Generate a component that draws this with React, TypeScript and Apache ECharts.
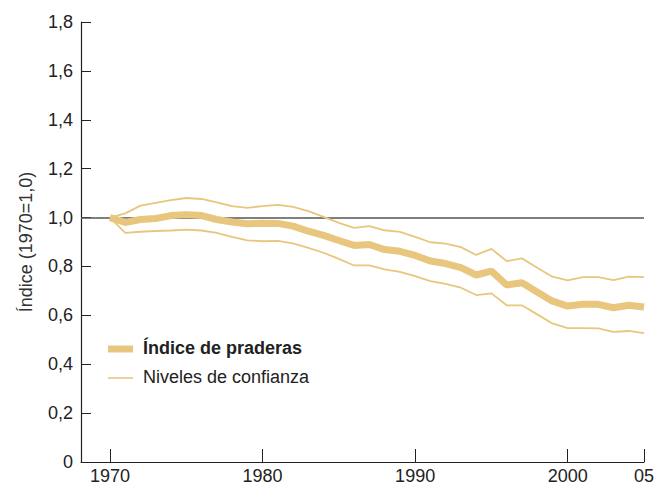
import React, { useEffect, useRef } from "react";
import * as echarts from "echarts";

const years = [1970,1971,1972,1973,1974,1975,1976,1977,1978,1979,1980,1981,1982,1983,1984,1985,1986,1987,1988,1989,1990,1991,1992,1993,1994,1995,1996,1997,1998,1999,2000,2001,2002,2003,2004,2005];
const indexValues = [1.0,0.98,0.992,0.996,1.008,1.012,1.008,0.992,0.982,0.975,0.977,0.976,0.965,0.944,0.927,0.906,0.886,0.89,0.869,0.862,0.845,0.822,0.812,0.795,0.765,0.781,0.724,0.733,0.695,0.658,0.638,0.645,0.645,0.631,0.641,0.634];
const upperValues = [1.0,1.017,1.049,1.06,1.071,1.08,1.076,1.062,1.047,1.04,1.047,1.052,1.044,1.026,1.003,0.978,0.958,0.965,0.948,0.941,0.921,0.899,0.893,0.879,0.847,0.872,0.822,0.833,0.795,0.758,0.743,0.756,0.756,0.744,0.758,0.756];
const lowerValues = [1.0,0.937,0.942,0.945,0.947,0.951,0.947,0.937,0.921,0.907,0.903,0.905,0.894,0.876,0.856,0.831,0.804,0.804,0.788,0.778,0.76,0.74,0.729,0.713,0.683,0.69,0.641,0.641,0.604,0.567,0.548,0.548,0.547,0.532,0.536,0.527];
const xTicks = [1970, 1980, 1990, 2000, 2005];
const baseline = 1.0;
const legendLabels = ["Índice de praderas", "Niveles de confianza"];
const yAxisName = "Índice (1970=1,0)";

const GOLD = "#e8c67e";
const FONT = "Liberation Sans, Arial, Helvetica, sans-serif";

export default function App() {
  const ref = useRef<HTMLDivElement>(null);
  useEffect(() => {
    if (!ref.current) return;
    const chart = echarts.init(ref.current, undefined, { renderer: "svg" });
    const pair = (vals: number[]) => years.map((y, i) => [y, vals[i]]);
    chart.setOption({
      animation: false,
      backgroundColor: "#ffffff",
      textStyle: { fontFamily: FONT },
      grid: { left: 81, right: 9, top: 22, bottom: 21, containLabel: false },
      xAxis: {
        type: "value",
        min: 1968.1,
        max: 2005,
        axisLine: { show: true, lineStyle: { color: "#222", width: 1.2 } },
        axisTick: {
          show: true,
          inside: true,
          length: 13,
          customValues: xTicks,
          lineStyle: { color: "#222", width: 1 },
        },
        axisLabel: {
          customValues: xTicks,
          fontSize: 18,
          color: "#222",
          margin: 5,
          fontFamily: FONT,
          formatter: (v: number) => (v === 2005 ? "05" : String(v)),
        },
        splitLine: { show: false },
      },
      yAxis: {
        type: "value",
        min: 0,
        max: 1.8,
        interval: 0.2,
        name: yAxisName,
        nameLocation: "middle",
        nameGap: 46,
        nameTextStyle: { fontSize: 18, color: "#333", fontFamily: FONT },
        axisLine: { show: true, lineStyle: { color: "#222", width: 1.2 } },
        axisTick: { show: true, inside: true, length: 10, lineStyle: { color: "#222", width: 1 } },
        axisLabel: {
          fontSize: 18,
          color: "#222",
          margin: 8,
          fontFamily: FONT,
          formatter: (v: number) => (v === 0 ? "0" : v.toFixed(1).replace(".", ",")),
        },
        splitLine: { show: false },
      },
      series: [
        {
          type: "line",
          name: legendLabels[1],
          data: pair(lowerValues),
          symbol: "none",
          lineStyle: { color: GOLD, width: 1.8 },
          z: 2,
          markLine: {
            silent: true,
            symbol: "none",
            label: { show: false },
            lineStyle: { color: "#555", width: 1.5, type: "solid" },
            data: [{ yAxis: baseline }],
            z: 1,
          },
        },
        {
          type: "line",
          name: legendLabels[1],
          data: pair(upperValues),
          symbol: "none",
          lineStyle: { color: GOLD, width: 1.8 },
          z: 2,
        },
        {
          type: "line",
          name: legendLabels[0],
          data: pair(indexValues),
          symbol: "none",
          lineStyle: { color: GOLD, width: 7 },
          z: 3,
        },
      ],
      graphic: [
        { type: "rect", shape: { x: 108, y: 345.5, width: 25, height: 7 }, style: { fill: GOLD } },
        {
          type: "text",
          x: 143,
          y: 348,
          style: { text: legendLabels[0], font: `bold 18px ${FONT}`, fill: "#222", textVerticalAlign: "middle" },
        },
        { type: "rect", shape: { x: 108, y: 377.2, width: 25, height: 1.6 }, style: { fill: GOLD } },
        {
          type: "text",
          x: 143,
          y: 377,
          style: { text: legendLabels[1], font: `18px ${FONT}`, fill: "#222", textVerticalAlign: "middle" },
        },
      ],
    });
    return () => chart.dispose();
  }, []);
  return <div ref={ref} style={{ width: 657, height: 485, position: "absolute", left: 0, top: 0 }} />;
}
